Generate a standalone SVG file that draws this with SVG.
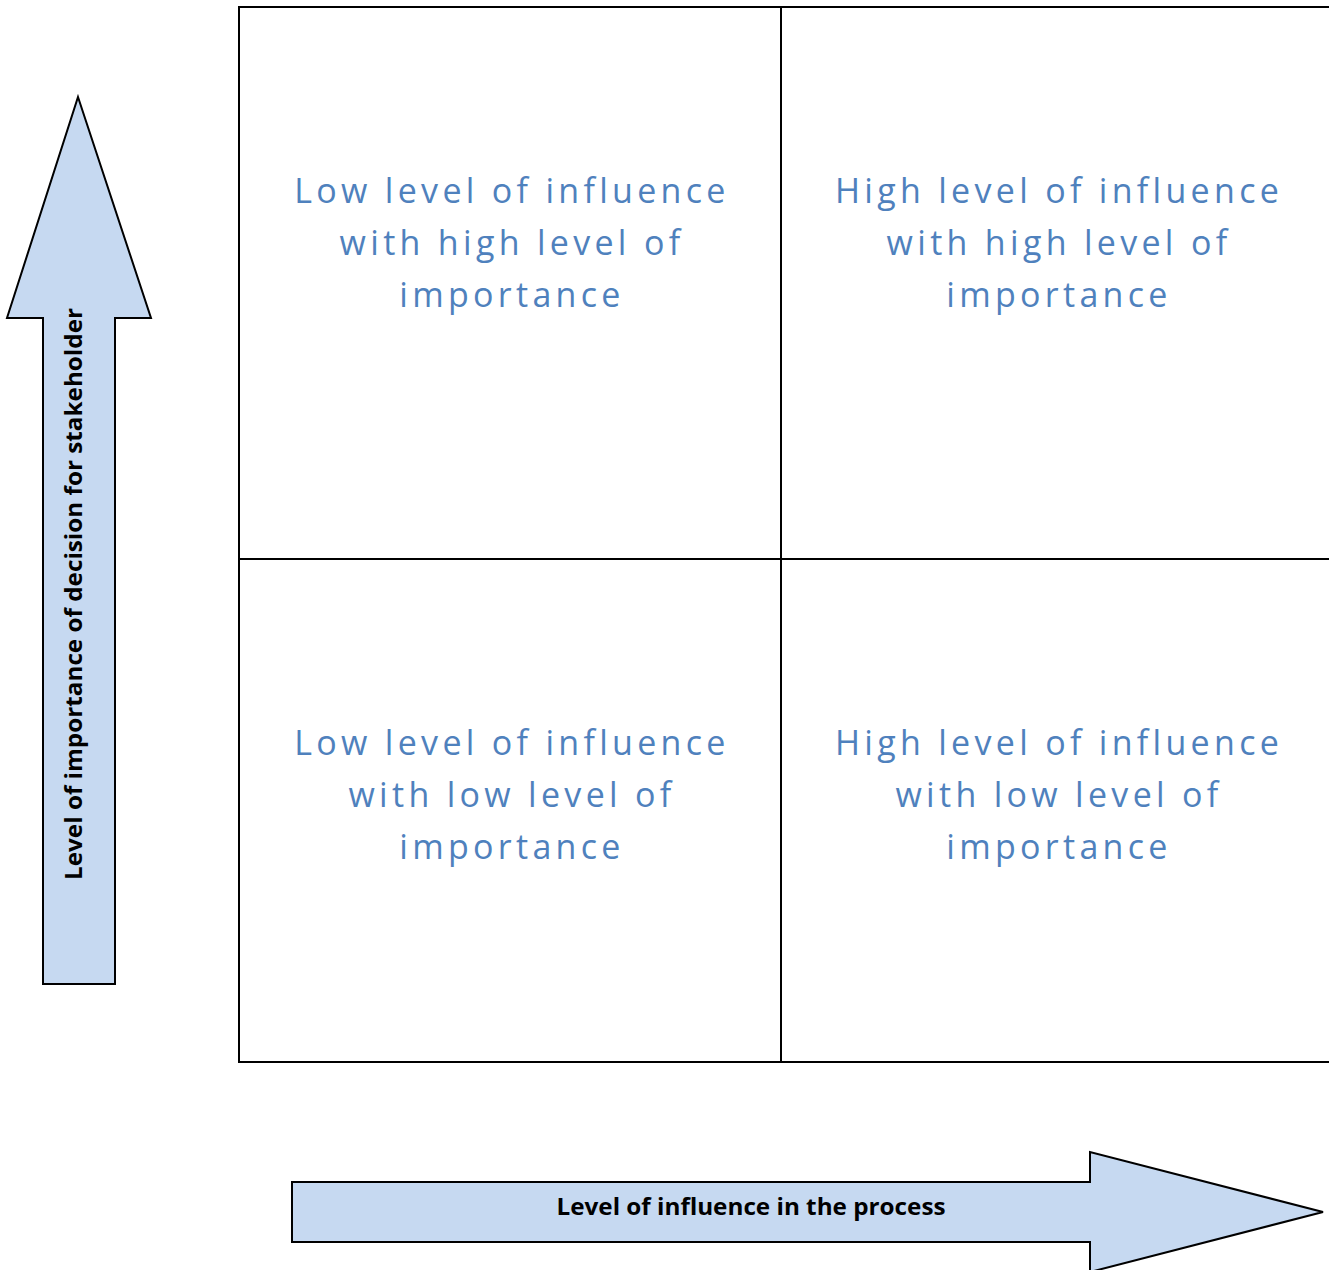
<svg xmlns="http://www.w3.org/2000/svg" width="1329" height="1270" viewBox="0 0 1329 1270">
  <style>
    .arrow { fill: #C6D9F1; stroke: #000; stroke-width: 2; stroke-linejoin: miter; }
    .grid { fill: none; stroke: #000; stroke-width: 2; }
    .quad { font-family: "Open Sans", "Noto Sans", sans-serif; font-size: 34px; fill: #4F81BD; text-anchor: middle; letter-spacing: 4.3px; }
    .axis { font-family: "Open Sans", "Liberation Sans", sans-serif; font-size: 23px; font-weight: bold; fill: #000; text-anchor: middle; }
  </style>
  <rect width="1329" height="1270" fill="#fff"/>

  <!-- quadrant grid -->
  <g id="grid">
    <path class="grid" d="M1330 7 H239 V1062 H1330 M781 7 V1062 M239 559 H1330"/>
  </g>

  <!-- quadrant labels (x shifted by half the trailing letter-spacing) -->
  <g id="q-low-high">
    <text class="quad" x="512" y="203">Low level of influence</text>
    <text class="quad" x="512" y="255">with high level of</text>
    <text class="quad" x="512" y="307">importance</text>
  </g>
  <g id="q-high-high">
    <text class="quad" x="1059" y="203">High level of influence</text>
    <text class="quad" x="1059" y="255">with high level of</text>
    <text class="quad" x="1059" y="307">importance</text>
  </g>
  <g id="q-low-low">
    <text class="quad" x="512" y="755">Low level of influence</text>
    <text class="quad" x="512" y="807">with low level of</text>
    <text class="quad" x="512" y="859">importance</text>
  </g>
  <g id="q-high-low">
    <text class="quad" x="1059" y="755">High level of influence</text>
    <text class="quad" x="1059" y="807">with low level of</text>
    <text class="quad" x="1059" y="859">importance</text>
  </g>

  <!-- axis arrows -->
  <g id="axis-importance">
    <path class="arrow" d="M78 97 L151 318 H115 V984 H43 V318 H7 Z"/>
    <text class="axis" transform="translate(82 594) rotate(-90)" textLength="572" lengthAdjust="spacingAndGlyphs">Level of importance of decision for stakeholder</text>
  </g>
  <g id="axis-influence">
    <path class="arrow" d="M292 1182 H1090 V1152 L1323 1212 L1090 1272 V1242 H292 Z"/>
    <text class="axis" x="751" y="1215" textLength="389" lengthAdjust="spacingAndGlyphs">Level of influence in the process</text>
  </g>
</svg>
